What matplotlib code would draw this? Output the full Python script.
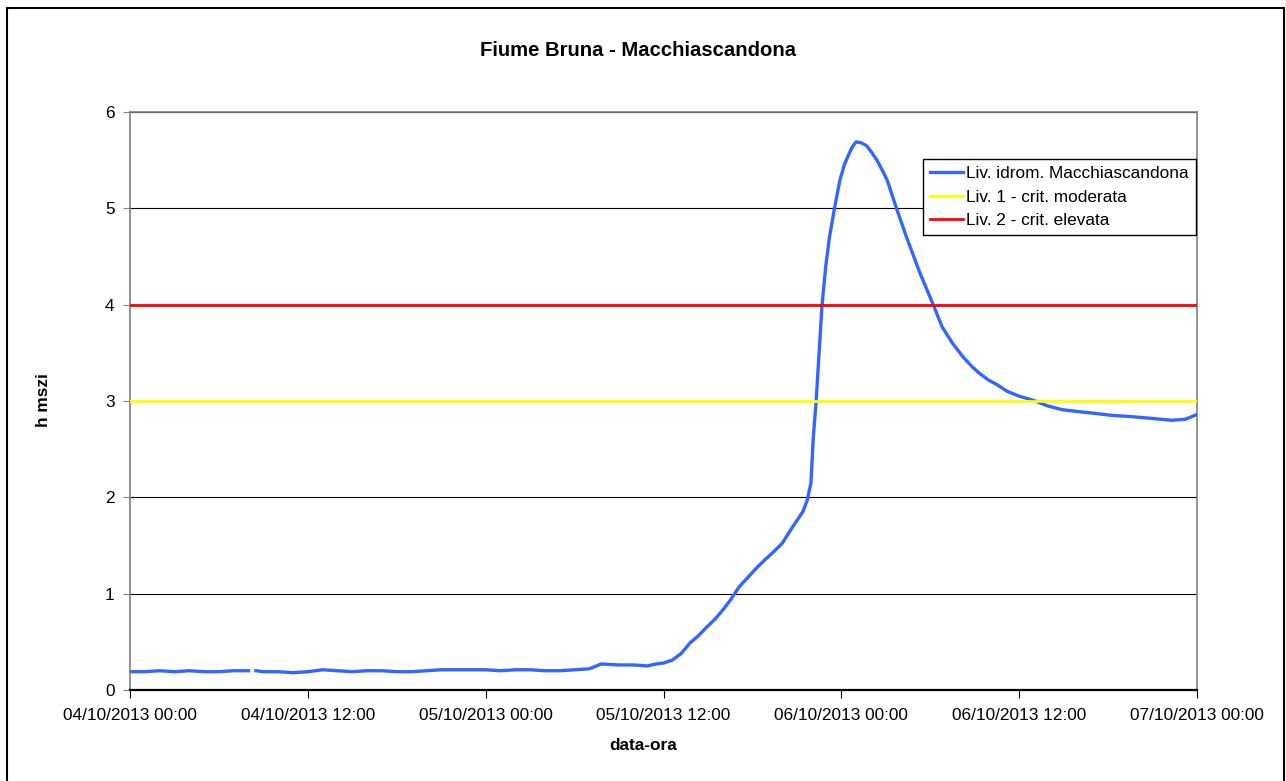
import matplotlib
matplotlib.use('Agg')
import numpy as np
import pandas as pd
import matplotlib.pyplot as plt
import matplotlib.dates as mdates
from matplotlib.patches import Rectangle

plt.rcParams['font.family'] = ['Liberation Sans', 'DejaVu Sans']

# ore dall'inizio (04/10/2013 00:00) e livello idrometrico (m)
hours = [0, 1, 2, 3, 4, 5, 6, 7, 8.0, 8.25, 8.5, 9, 10, 11, 12, 13, 14, 15, 16, 17,
         18, 19, 20, 21, 22, 23, 24, 25, 26, 27, 28, 29, 30, 31, 31.8, 33, 34, 34.9,
         35.5, 36, 36.6, 37.2, 37.8, 38.4, 38.9, 39.5, 40.0, 40.5, 41.1, 41.7, 42.3,
         42.9, 43.4, 44.0, 44.7, 45.4, 45.7, 45.95, 46.1, 46.3, 46.5, 46.7, 46.95,
         47.2, 47.55, 47.9, 48.2, 48.5, 48.75, 49.0, 49.35, 49.7, 50.05, 50.4, 50.75,
         51.1, 51.7, 52.4, 53.3, 54.2, 54.8, 55.5, 56.2, 56.8, 57.3, 57.9, 58.5, 59.2,
         60.0, 60.9, 61.9, 62.9, 64.0, 65.2, 66.3, 67.4, 68.9, 70.3, 71.2, 72.0]
levels = [0.19, 0.19, 0.20, 0.19, 0.20, 0.19, 0.19, 0.20, 0.20, np.nan, 0.20, 0.19,
          0.19, 0.18, 0.19, 0.21, 0.20, 0.19, 0.20, 0.20, 0.19, 0.19, 0.20, 0.21,
          0.21, 0.21, 0.21, 0.20, 0.21, 0.21, 0.20, 0.20, 0.21, 0.22, 0.27, 0.26,
          0.26, 0.25, 0.27, 0.28, 0.31, 0.38, 0.49, 0.57, 0.65, 0.74, 0.83, 0.93,
          1.07, 1.17, 1.27, 1.36, 1.43, 1.52, 1.69, 1.85, 1.97, 2.15, 2.6, 3.0, 3.5,
          4.0, 4.4, 4.7, 5.01, 5.29, 5.45, 5.56, 5.64, 5.69, 5.68, 5.65, 5.58, 5.50,
          5.40, 5.29, 5.01, 4.70, 4.33, 4.0, 3.77, 3.6, 3.46, 3.36, 3.29, 3.22, 3.17,
          3.1, 3.05, 3.01, 2.95, 2.91, 2.89, 2.87, 2.85, 2.84, 2.82, 2.80, 2.81, 2.86]
liv1 = 3.0
liv2 = 4.0

start = pd.Timestamp('2013-10-04 00:00')
end = pd.Timestamp('2013-10-07 00:00')
times = start + pd.to_timedelta(hours, unit='h')
xticks = pd.date_range(start, end, freq='12h')

W, H = 1286, 781
fig = plt.figure(figsize=(W / 100, H / 100), dpi=100)
ax = fig.add_axes([130 / W, 1 - 690 / H, (1197 - 130) / W, (690 - 112) / H])

ax.plot(times, levels, color='#3366ff', lw=2.4, label='Liv. idrom. Macchiascandona', zorder=3)
ax.plot([start, end], [liv1, liv1], color='#ffff00', lw=2.0, label='Liv. 1 - crit. moderata', zorder=4)
ax.plot([start, end], [liv2, liv2], color='#ff0000', lw=2.0, label='Liv. 2 - crit. elevata', zorder=4)

ax.set_xlim(start, end)
ax.set_ylim(0, 6)
ax.set_yticks(range(7))
ax.set_xticks(xticks)
ax.xaxis.set_major_formatter(mdates.DateFormatter('%d/%m/%Y %H:%M'))
ax.yaxis.grid(True, color='black', lw=0.8)
ax.set_axisbelow(True)

for s in ['top', 'right', 'left']:
    ax.spines[s].set_color('#808080')
    ax.spines[s].set_linewidth(1.2)
ax.spines['bottom'].set_color('black')
ax.spines['bottom'].set_linewidth(1.6)
ax.spines['bottom'].set_zorder(5)

ax.tick_params(axis='y', direction='out', length=5, color='#808080', labelsize=12.4, pad=6)
ax.tick_params(axis='x', direction='out', length=6, color='black', labelsize=12.4, pad=7)

fig.text(638 / W, 1 - 50 / H, 'Fiume Bruna - Macchiascandona', ha='center', va='center',
         fontsize=14.6, fontweight='bold')
fig.text(643 / W, 1 - 745 / H, 'data-ora', ha='center', va='center',
         fontsize=12.4, fontweight='bold')
fig.text(43 / W, 1 - 400 / H, 'h mszi', ha='center', va='center', rotation=90,
         fontsize=12.4, fontweight='bold')

leg = ax.legend(loc='upper left', bbox_to_anchor=(923 / W, 1 - 159 / H),
                bbox_transform=fig.transFigure, fancybox=False, framealpha=1,
                edgecolor='black', fontsize=12.4, handlelength=1.9, handletextpad=0.2,
                borderpad=0.4, labelspacing=0.5, borderaxespad=0)
leg.get_frame().set_linewidth(1.0)

fig.add_artist(Rectangle((7 / W, -0.02), (1284 - 7) / W, (H - 8) / H + 0.02,
                         transform=fig.transFigure, fill=False, ec='black', lw=1.5))

fig.savefig('out.png', dpi=100)
